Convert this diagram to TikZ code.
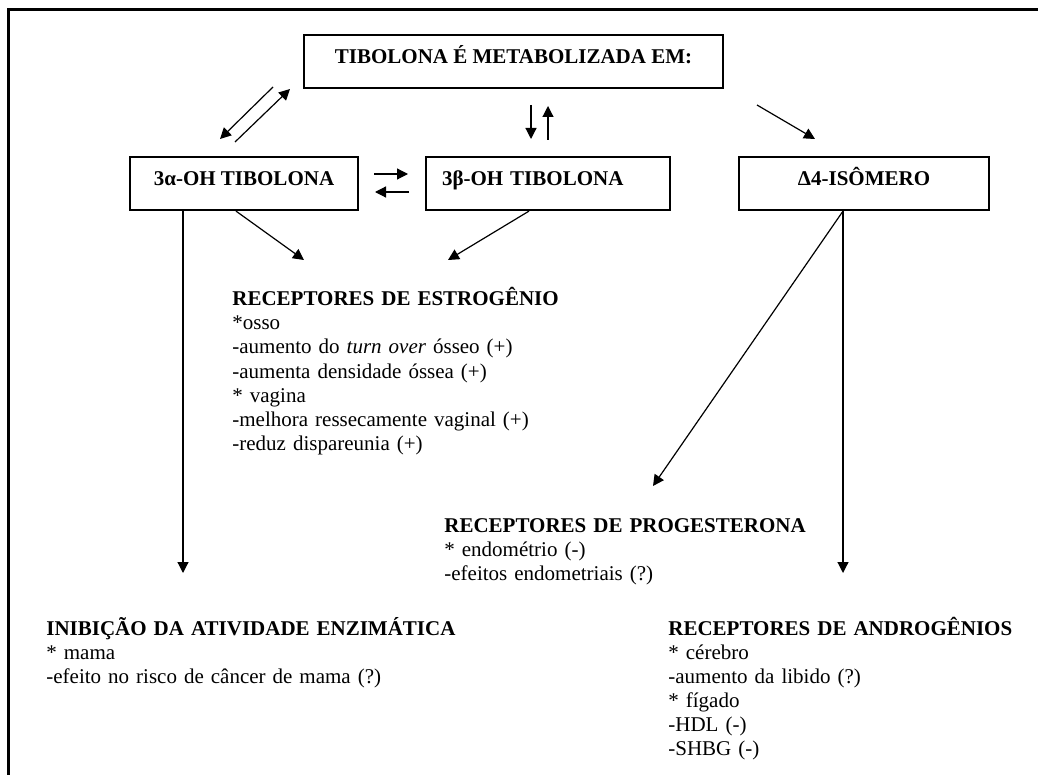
\documentclass[tikz,border=0pt]{standalone}
\usepackage{fontspec}
\setmainfont{Liberation Serif}
\usetikzlibrary{arrows.meta,calc}

\tikzset{
  caixa/.style={draw,line width=1.1pt,inner sep=0pt,minimum height=26.5pt,
    text height=6pt,text depth=4pt,font=\fontsize{10.5}{12}\selectfont\bfseries},
  seta/.style={-{Triangle[length=5.5pt,width=5.5pt]},line width=0.6pt},
  bloco/.style={anchor=base west,inner sep=0pt,text width=240pt,align=left,
    font=\fontsize{10.5}{12}\selectfont}
}

\begin{document}
\begin{tikzpicture}[x=0.5pt,y=-0.5pt]
\useasboundingbox (0,0) rectangle (1038,775);
\draw[line width=1.5pt] (1038,10) -- (8,10) -- (8,775);

\node[caixa,minimum width=209.5pt] (tib) at (513.5,61.5) {TIBOLONA É METABOLIZADA EM:};
\node[caixa,minimum width=114pt] (alfa) at (244,183.5) {3α-OH TIBOLONA};
\node[caixa,text width=106pt,inner xsep=8pt,align=left] (beta) at (548,183.5) {3β-OH TIBOLONA};
\node[caixa,minimum width=125pt] (delta) at (864,183.5) {Δ4-ISÔMERO};

\node[bloco] (estro) at (232,306) {\textbf{RECEPTORES DE ESTROGÊNIO}\\
  {*}osso\\
  -aumento do \textit{turn over} ósseo (+)\\
  -aumenta densidade óssea (+)\\
  {*} vagina\\
  -melhora ressecamente vaginal (+)\\
  -reduz dispareunia (+)};
\node[bloco] (proge) at (444,532) {\textbf{RECEPTORES DE PROGESTERONA}\\
  {*} endométrio (-)\\
  -efeitos endometriais (?)};
\node[bloco] (inib) at (46,635) {\textbf{INIBIÇÃO DA ATIVIDADE ENZIMÁTICA}\\
  {*} mama\\
  -efeito no risco de câncer de mama (?)};
\node[bloco] (andro) at (668,635) {\textbf{RECEPTORES DE ANDROGÊNIOS}\\
  {*} cérebro\\
  -aumento da libido (?)\\
  {*} fígado\\
  -HDL (-)\\
  -SHBG (-)};

\coordinate (ta1) at (273,87);  \coordinate (ta2) at (220,139);
\coordinate (ta3) at (235,142); \coordinate (ta4) at (290,89);
\coordinate (tb1) at (531,105); \coordinate (tb2) at (531,139);
\coordinate (tb3) at (548,140); \coordinate (tb4) at (548,106);
\coordinate (td1) at (757,105); \coordinate (td2) at (815,139);
\coordinate (ab1) at (374,174); \coordinate (ab2) at (408,174);
\coordinate (ab3) at (409,192); \coordinate (ab4) at (375,192);
\coordinate (estro1) at (304,260);
\coordinate (estro2) at (448,260);
\coordinate (inib1) at (183,573);
\coordinate (proge1) at (653,486);
\coordinate (andro1) at (843,573);

\draw[seta] (ta1) -- (ta2);
\draw[seta] (ta3) -- (ta4);
\draw[seta] (tb1) -- (tb2);
\draw[seta] (tb3) -- (tb4);
\draw[seta] (td1) -- (td2);
\draw[seta] (ab1) -- (ab2);
\draw[seta] (ab3) -- (ab4);

\draw[seta] ($(alfa.south)+(-8,0)$) -- (estro1);
\draw[seta] ($(beta.south)+(-19,0)$) -- (estro2);
\draw[seta] ($(alfa.south)+(-61,0)$) -- (inib1);
\draw[seta] ($(delta.south)+(-21,0)$) -- (proge1);
\draw[seta] ($(delta.south)+(-21,0)$) -- (andro1);
\end{tikzpicture}
\end{document}
